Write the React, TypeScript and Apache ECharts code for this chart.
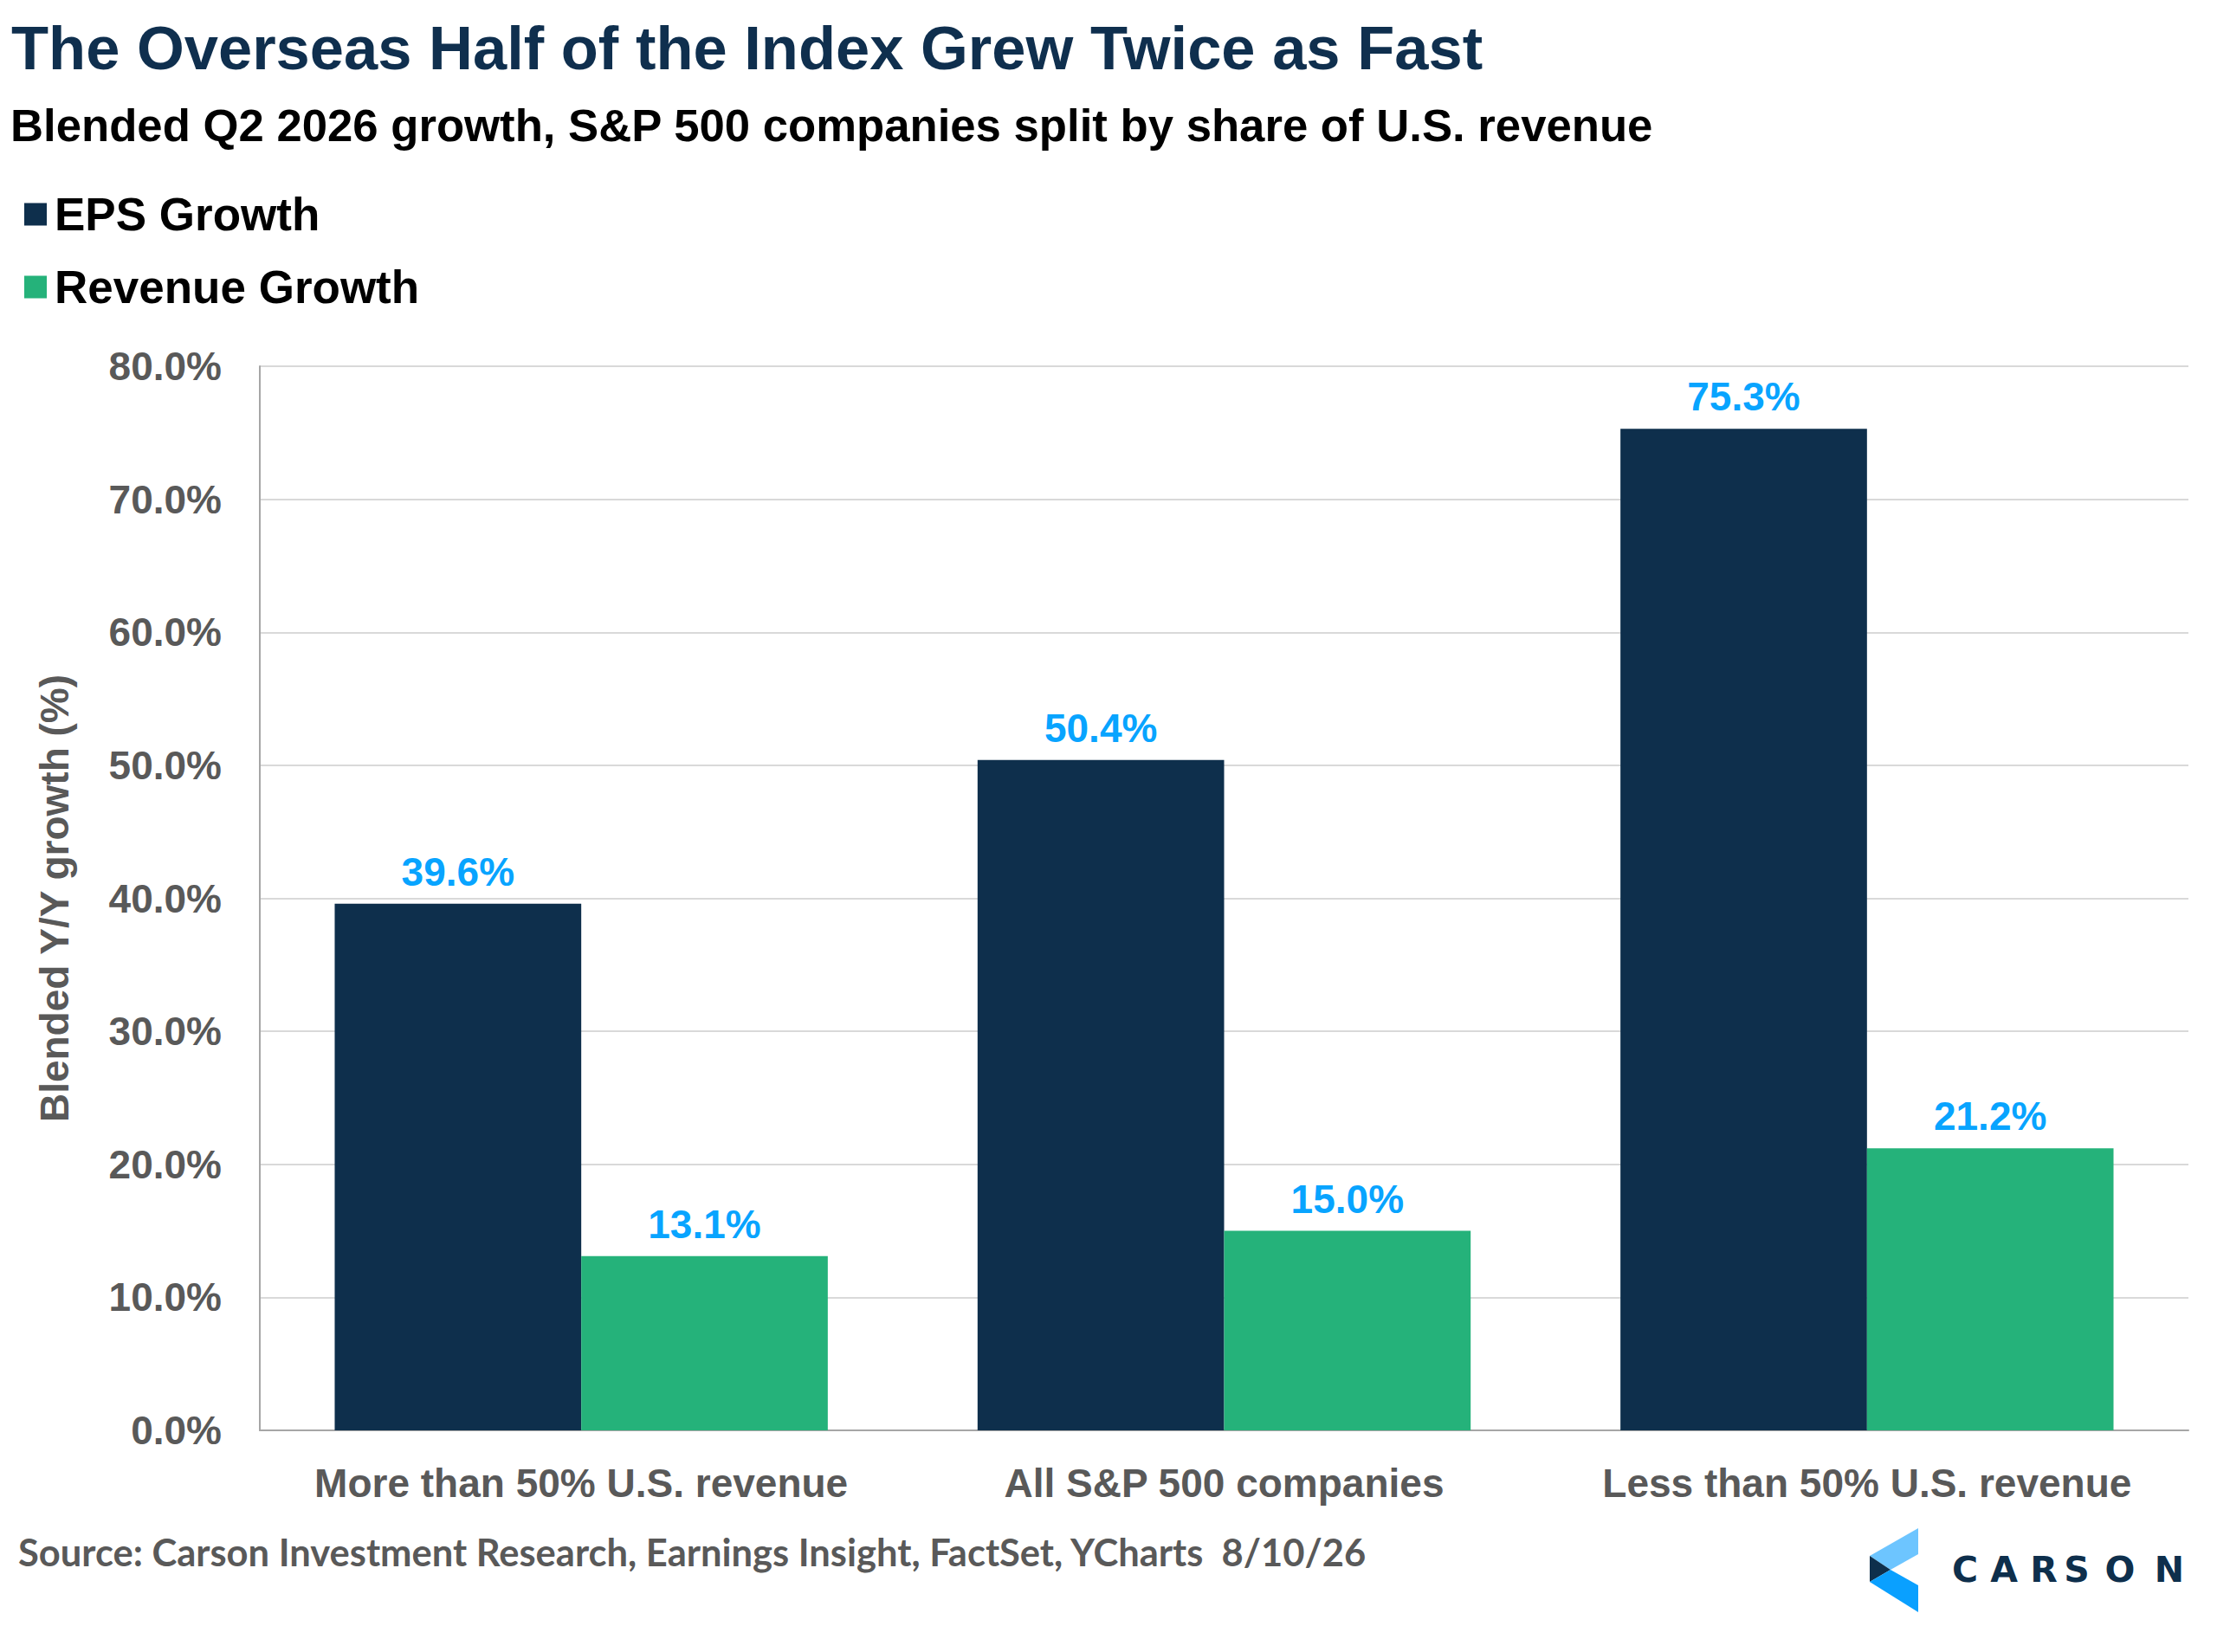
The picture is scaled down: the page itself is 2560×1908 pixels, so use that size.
import React, { useEffect, useRef } from 'react';
import * as echarts from 'echarts';

// 数据
const categories = ['More than 50% U.S. revenue', 'All S&P 500 companies', 'Less than 50% U.S. revenue'];
const epsGrowth = [39.6, 50.4, 75.3];
const revenueGrowth = [13.1, 15.0, 21.2];
const yTicks = { min: 0, max: 80, interval: 10 };

const TITLE = 'The Overseas Half of the Index Grew Twice as Fast';
const SUBTITLE = 'Blended Q2 2026 growth, S&P 500 companies split by share of U.S. revenue';
const SOURCE = 'Source: Carson Investment Research, Earnings Insight, FactSet, YCharts  8/10/26';

const NAVY = '#0e2f4c';
const GREEN = '#25b27a';
const LABEL_BLUE = '#08a4ff';
const GRAY = '#595959';
const FONT = "'Liberation Sans', Arial, sans-serif";

const App: React.FC = () => {
  const chartRef = useRef<HTMLDivElement>(null);

  useEffect(() => {
    document.body.style.margin = '0';
    if (!chartRef.current) return;
    const chart = echarts.init(chartRef.current, null, { renderer: 'svg' });

    const barLabel = {
      show: true,
      position: 'top',
      distance: 14,
      color: LABEL_BLUE,
      fontSize: 46,
      fontWeight: 'bold',
      fontFamily: FONT,
      formatter: (p: any) => `${Number(p.value).toFixed(1)}%`,
    };

    // CARSON 字母位置
    const logoLetters = [
      ['C', 2269],
      ['A', 2314],
      ['R', 2360],
      ['S', 2398],
      ['O', 2448],
      ['N', 2505],
    ];

    chart.setOption({
      animation: false,
      backgroundColor: '#ffffff',
      textStyle: { fontFamily: FONT },
      grid: { left: 300, right: 33, top: 423, bottom: 256, containLabel: false },
      legend: {
        orient: 'vertical',
        left: 23,
        top: 216,
        itemWidth: 26,
        itemHeight: 26,
        itemGap: 31,
        icon: 'rect',
        textStyle: {
          fontSize: 53,
          fontWeight: 'bold',
          color: '#000',
          fontFamily: FONT,
          padding: [0, 0, 0, 4],
        },
        data: ['EPS Growth', 'Revenue Growth'],
      },
      xAxis: {
        type: 'category',
        data: categories,
        axisLine: { show: true, lineStyle: { color: '#a6a6a6', width: 2 } },
        axisTick: { show: false },
        axisLabel: {
          interval: 0,
          margin: 38,
          fontSize: 46,
          fontWeight: 'bold',
          color: GRAY,
          fontFamily: FONT,
        },
      },
      yAxis: {
        type: 'value',
        min: yTicks.min,
        max: yTicks.max,
        interval: yTicks.interval,
        name: 'Blended Y/Y growth (%)',
        nameLocation: 'middle',
        nameGap: 214,
        nameTextStyle: { fontSize: 46, fontWeight: 'bold', color: GRAY, fontFamily: FONT },
        axisLine: { show: true, lineStyle: { color: '#a6a6a6', width: 2 } },
        axisTick: { show: false },
        splitLine: { lineStyle: { color: '#d9d9d9', width: 2 } },
        axisLabel: {
          margin: 44,
          fontSize: 46,
          fontWeight: 'bold',
          color: GRAY,
          fontFamily: FONT,
          formatter: (v: number) => `${v.toFixed(1)}%`,
        },
      },
      series: [
        {
          name: 'EPS Growth',
          type: 'bar',
          data: epsGrowth,
          barGap: '0%',
          barCategoryGap: '23.3%',
          itemStyle: { color: NAVY },
          label: barLabel,
        },
        {
          name: 'Revenue Growth',
          type: 'bar',
          data: revenueGrowth,
          barGap: '0%',
          barCategoryGap: '23.3%',
          itemStyle: { color: GREEN },
          label: barLabel,
        },
      ],
      graphic: [
        {
          type: 'text',
          left: 13,
          top: 20,
          style: { text: TITLE, fontSize: 70.5, fontWeight: 'bold', fill: '#0f2f4e', fontFamily: FONT },
        },
        {
          type: 'text',
          left: 12,
          top: 118,
          style: { text: SUBTITLE, fontSize: 52.7, fontWeight: 'bold', fill: '#000', fontFamily: FONT },
        },
        {
          type: 'text',
          left: 21,
          top: 1770,
          style: { text: SOURCE, fontSize: 43.5, fontWeight: 'bold', fill: GRAY, fontFamily: "Lato, 'Open Sans', sans-serif" },
        },
        // logo
        {
          type: 'polygon',
          shape: { points: [[2159, 1797], [2215, 1765], [2215, 1795], [2183, 1813]] },
          style: { fill: '#6dc5ff' },
        },
        {
          type: 'polygon',
          shape: { points: [[2159, 1797], [2183, 1813], [2159, 1827]] },
          style: { fill: NAVY },
        },
        {
          type: 'polygon',
          shape: { points: [[2159, 1827], [2183, 1813], [2215, 1831], [2215, 1862]] },
          style: { fill: '#0aa0ff' },
        },
        ...logoLetters.map(([ch, x]) => ({
          type: 'text',
          x: x as number,
          y: 1813,
          style: {
            text: ch as string,
            fontSize: 41,
            fontWeight: 'bold',
            fill: NAVY,
            fontFamily: "'DejaVu Sans', sans-serif",
            textAlign: 'center',
            textVerticalAlign: 'middle',
          },
        })),
      ],
    });

    return () => {
      chart.dispose();
    };
  }, []);

  return <div ref={chartRef} style={{ width: '2560px', height: '1908px' }} />;
};

export default App;
